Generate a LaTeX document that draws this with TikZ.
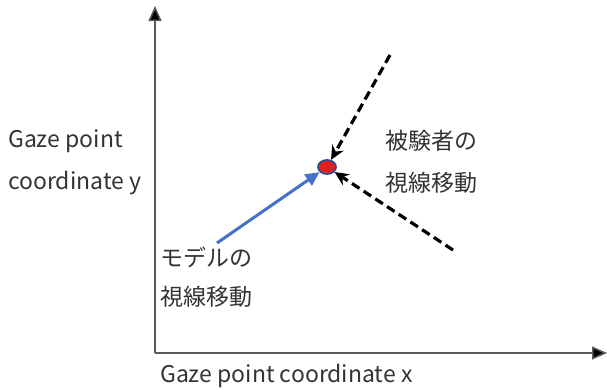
\documentclass[tikz,border=0pt]{standalone}
\usepackage{fontspec}
\setmainfont{Noto Sans CJK JP}
\usetikzlibrary{arrows.meta,shapes.geometric}
\begin{document}
\begin{tikzpicture}[x=1pt,y=-1pt,
  axis/.style={draw=gray!70!black,line width=1.5pt,-{Triangle[length=15pt,width=13pt,fill=black]}},
  lbl/.style={anchor=west,inner sep=0pt,text=black!80,font=\fontsize{23}{26}\selectfont},
  dasharrow/.style={draw=black,line width=3.2pt,dash pattern=on 9pt off 5pt,-{Stealth[length=14pt,width=13pt]}},
  bluearrow/.style={draw={rgb,255:red,68;green,114;blue,196},line width=3pt,-{Triangle[length=14pt,width=13pt]}}]
\useasboundingbox (0,0) rectangle (607,389);
\coordinate (o) at (155,353);
\coordinate (ytop) at (155,6);
\coordinate (xend) at (607,353);
\draw[axis] (o) -- (ytop);
\draw[axis] (o) -- (xend);
\node[draw={rgb,255:red,47;green,82;blue,143},line width=1.8pt,fill={rgb,255:red,230;green,30;blue,30},ellipse,minimum width=18pt,minimum height=14pt,inner sep=0pt] (dot) at (327,167) {};
\coordinate (b0) at (217,243);
\coordinate (d1) at (390,55);
\coordinate (d2) at (453,250);
\draw[bluearrow] (b0) -- (dot);
\draw[dasharrow] (d1) -- (dot);
\draw[dasharrow] (d2) -- (dot);
\node[lbl] (gy1) at (8,141) {Gaze point};
\node[lbl] (gy2) at (8,183) {coordinate y};
\node[lbl] (s1) at (385,141) {被験者の};
\node[lbl] (s2) at (385,183) {視線移動};
\node[lbl] (m1) at (160,257) {モデルの};
\node[lbl] (m2) at (160,297) {視線移動};
\node[lbl] (gx) at (160,376) {Gaze point coordinate x};
\end{tikzpicture}
\end{document}
